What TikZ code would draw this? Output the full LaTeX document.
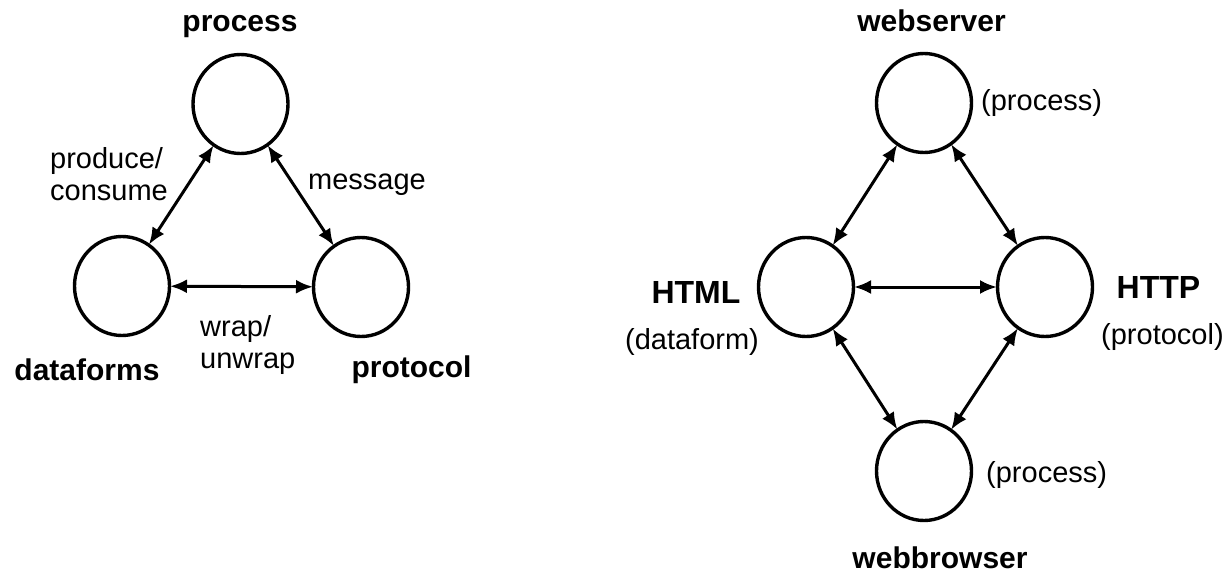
\documentclass[tikz,border=0pt]{standalone}
\usepackage{fontspec}
\setmainfont{Liberation Sans}
\usetikzlibrary{arrows.meta,shapes.geometric}
\begin{document}
\begin{tikzpicture}[x=1pt,y=1pt,
  entity/.style={ellipse,draw,line width=3.4pt,minimum width=95pt,minimum height=99pt,inner sep=0pt,outer sep=0pt},
  link/.style={line width=3pt,{Latex[length=17pt,width=14pt]}-{Latex[length=17pt,width=14pt]},shorten <=0.5pt,shorten >=0.5pt},
  title/.style={font=\bfseries\fontsize{30}{36}\selectfont,inner sep=0pt},
  bigtitle/.style={font=\bfseries\fontsize{32}{38}\selectfont,inner sep=0pt},
  note/.style={font=\fontsize{29}{32}\selectfont,inner sep=0pt,align=left}]
\useasboundingbox (0,0) rectangle (1226,-575);
% left diagram
\node[entity] (p1) at (240.5,-104) {};
\node[entity] (d1) at (122,-286) {};
\node[entity] (r1) at (361,-287) {};
\draw[link] (p1) -- (d1);
\draw[link] (p1) -- (r1);
\draw[link] (d1) -- (r1);
\node[title,anchor=base] (tp1) at (240,-32) {process};
\node[title,anchor=base] (td1) at (87,-380) {dataforms};
\node[title,anchor=base] (tr1) at (411.5,-377) {protocol};
\node[note,anchor=base west] (lpc) at (50,-200) {produce/\\consume};
\node[note,anchor=base west] (lmsg) at (308,-189) {message};
\node[note,anchor=base west] (lwrap) at (200,-368) {wrap/\\unwrap};
% right diagram
\node[entity] (ws) at (924,-103) {};
\node[entity] (html) at (806,-287) {};
\node[entity] (http) at (1045,-287) {};
\node[entity] (wb) at (924,-471) {};
\draw[link] (ws) -- (html);
\draw[link] (ws) -- (http);
\draw[link] (html) -- (http);
\draw[link] (html) -- (wb);
\draw[link] (http) -- (wb);
\node[title,anchor=base] (tws) at (931.5,-32) {webserver};
\node[title,anchor=base] (twb) at (940,-568) {webbrowser};
\node[bigtitle,anchor=base] (thtml) at (696,-303) {HTML};
\node[bigtitle,anchor=base] (thttp) at (1158.5,-298) {HTTP};
\node[note,anchor=base west] (pws) at (981,-111) {(process)};
\node[note,anchor=base west] (pwb) at (986,-482) {(process)};
\node[note,anchor=base] (phtml) at (692,-349) {(dataform)};
\node[note,anchor=base west] (phttp) at (1101,-344) {(protocol)};
\end{tikzpicture}
\end{document}
